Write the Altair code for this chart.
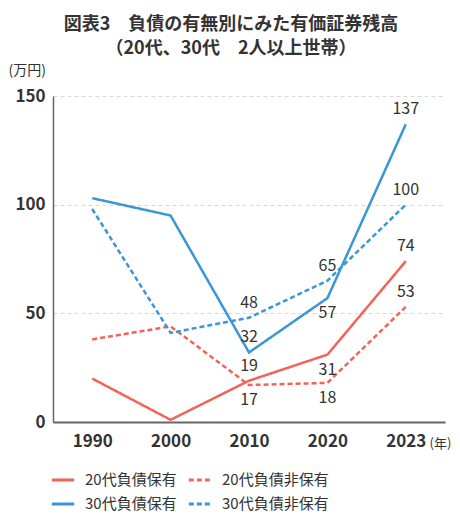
import altair as alt
import pandas as pd

years = ["1990", "2000", "2010", "2020", "2023"]
series_names = ["20代負債保有", "30代負債保有", "20代負債非保有", "30代負債非保有"]
s20_debt = [20, 1, 19, 31, 74]
s20_nodebt = [38, 44, 17, 18, 53]
s30_debt = [103, 95, 32, 57, 137]
s30_nodebt = [98, 41, 48, 65, 100]
labelled_years = ["2010", "2020", "2023"]
# which labels sit below their point (others sit above)
below_labels = {("20代負債非保有", "2010"), ("20代負債非保有", "2020"),
                ("20代負債保有", "2020"), ("30代負債保有", "2020")}

rows = []
for name, vals in zip(["20代負債保有", "20代負債非保有", "30代負債保有", "30代負債非保有"],
                      [s20_debt, s20_nodebt, s30_debt, s30_nodebt]):
    for y, v in zip(years, vals):
        rows.append({
            "series": name, "year": y, "value": v,
            "show": y in labelled_years,
            "pos": "below" if (name, y) in below_labels else "above",
        })
df = pd.DataFrame(rows)

RED = "#f4635a"
BLUE = "#3b96d6"
FONT = "Noto Sans CJK JP"
TXT = "#333333"

x = alt.X("year:O", sort=years,
          scale=alt.Scale(type="point", padding=0.5),
          axis=alt.Axis(title="(年)", titleX=376, titleY=21, titleAlign="left",
                        titleBaseline="middle", titleFontSize=13, titleFontWeight="normal",
                        titleColor=TXT, titleFont=FONT,
                        labelAngle=0, labelFontSize=17, labelFontWeight="bold",
                        labelColor=TXT, labelFont=FONT, labelPadding=11,
                        ticks=False, grid=False, domainColor="#666666", domainWidth=2))
y = alt.Y("value:Q", scale=alt.Scale(domain=[0, 150]),
          axis=alt.Axis(values=[0, 50, 100, 150], title="(万円)", titleAngle=0,
                        titleAlign="left", titleBaseline="middle", titleX=-45, titleY=-26,
                        titleFontSize=14, titleFontWeight="normal", titleColor=TXT,
                        titleFont=FONT,
                        labelFontSize=17, labelFontWeight="bold", labelColor=TXT,
                        labelFont=FONT, labelPadding=8, ticks=False,
                        domainColor="#666666", domainWidth=1.5,
                        gridColor="#d9d9d9", gridDash=[4, 3], gridWidth=1))

base = alt.Chart(df).encode(x=x, y=y)

leg = dict(title=None, orient="none", legendX=-3, legendY=371, columns=2,
           symbolType="stroke", symbolSize=500, symbolStrokeWidth=3, labelFontSize=15,
           labelFont=FONT, labelColor=TXT, labelOffset=9, columnPadding=5,
           rowPadding=3, padding=0)

lines = base.mark_line(strokeWidth=2.5).encode(
    color=alt.Color("series:N", sort=series_names,
                    scale=alt.Scale(domain=series_names, range=[RED, BLUE, RED, BLUE]),
                    legend=alt.Legend(**leg)),
    strokeDash=alt.StrokeDash("series:N", sort=series_names,
                              scale=alt.Scale(domain=series_names,
                                              range=[[1, 0], [1, 0], [5, 3], [5, 3]]),
                              legend=alt.Legend(**leg)),
)

above = base.transform_filter("datum.show && datum.pos == 'above'").mark_text(
    dy=-15, fontSize=16, font=FONT, color=TXT).encode(text="value:Q")
below = base.transform_filter("datum.show && datum.pos == 'below'").mark_text(
    dy=15, fontSize=16, font=FONT, color=TXT).encode(text="value:Q")

chart = alt.layer(lines, above, below).properties(
    width=392, height=326,
    autosize=alt.AutoSizeParams(type="none"),
    padding={"left": 45, "top": 88, "right": 7, "bottom": 91},
    title=alt.TitleParams(
        text="図表3　負債の有無別にみた有価証券残高",
        subtitle="（20代、30代　2人以上世帯）",
        fontSize=18, fontWeight="bold", font=FONT, color=TXT, anchor="middle",
        subtitleFontSize=18, subtitleFontWeight="bold", subtitleFont=FONT,
        subtitleColor=TXT, subtitlePadding=6,
        dx=-18, offset=5),
).configure_view(stroke=None)

chart.save("out.html", embed_options={"renderer": "svg", "actions": False})
